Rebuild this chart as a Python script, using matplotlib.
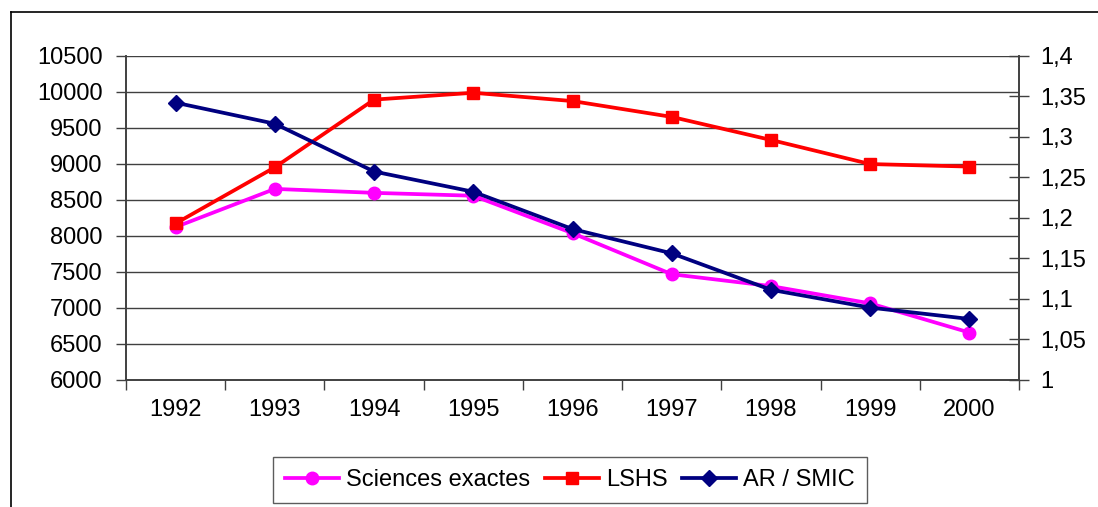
import matplotlib
matplotlib.use("Agg")
import matplotlib.pyplot as plt
from matplotlib.lines import Line2D
from matplotlib.ticker import FixedLocator, FuncFormatter

plt.rcParams['font.family'] = ['Liberation Sans', 'DejaVu Sans']

years = ["1992", "1993", "1994", "1995", "1996", "1997", "1998", "1999", "2000"]
sciences_exactes = [8120, 8650, 8595, 8555, 8035, 7465, 7300, 7060, 6655]
lshs = [8170, 8950, 9890, 9985, 9870, 9650, 9330, 8995, 8960]
ar_smic = [1.342, 1.316, 1.257, 1.232, 1.186, 1.156, 1.111, 1.089, 1.075]

left_ticks = [6000, 6500, 7000, 7500, 8000, 8500, 9000, 9500, 10000, 10500]
right_ticks = [1.0, 1.05, 1.1, 1.15, 1.2, 1.25, 1.3, 1.35, 1.4]

W, H = 1098, 507
fig = plt.figure(figsize=(W / 100, H / 100), dpi=100)
fig.patch.set_facecolor("white")

ax = fig.add_axes([126 / W, 1 - 379.7 / H, (1019 - 126) / W, (379.7 - 55.7) / H])
ax2 = ax.twinx()

x = list(range(len(years)))
ax.set_xlim(-0.5, len(years) - 0.5)
ax.set_ylim(6000, 10500)
ax2.set_ylim(1.0, 1.4)

gridc = "#404040"
for v in left_ticks[1:]:
    ax.axhline(v, color=gridc, lw=1.0, zorder=0)

l1, = ax.plot(x, sciences_exactes, color="#FF00FF", lw=2.7, marker="o", ms=9,
              label="Sciences exactes", zorder=3)
l2, = ax.plot(x, lshs, color="#FF0000", lw=2.7, marker="s", ms=8.5,
              label="LSHS", zorder=3)
l3, = ax2.plot(x, ar_smic, color="#000080", lw=2.7, marker="D", ms=8,
               label="AR / SMIC", zorder=3)

# x axis: labels at category centres, tick marks at boundaries
ax.set_xticks(x)
ax.set_xticklabels(years, fontsize=17)
ax.tick_params(axis="x", which="major", length=0, pad=14)
ax.xaxis.set_minor_locator(FixedLocator([i - 0.5 for i in range(len(years) + 1)]))
ax.tick_params(axis="x", which="minor", length=7, width=1, color=gridc, direction="out")

ax.set_yticks(left_ticks)
ax.set_yticklabels([str(v) for v in left_ticks], fontsize=17)
ax.tick_params(axis="y", length=7, width=1, color=gridc, direction="out", pad=10)

ax2.set_yticks(right_ticks)
ax2.yaxis.set_major_formatter(FuncFormatter(lambda v, p: ("%g" % v).replace(".", ",")))
ax2.tick_params(axis="y", length=14, width=1, color=gridc, direction="inout", pad=8, labelsize=17)

for a in (ax, ax2):
    a.spines["top"].set_visible(False)
    for s in ("left", "right", "bottom"):
        a.spines[s].set_color(gridc)
        a.spines[s].set_linewidth(1.2)
ax.patch.set_visible(False)

leg = fig.legend(handles=[l1, l2, l3], loc="center", bbox_to_anchor=(570 / W, 1 - 480 / H),
                 ncol=3, fontsize=17, frameon=True, fancybox=False, edgecolor="#333333",
                 handlelength=2.3, handletextpad=0.3, columnspacing=0.6, borderpad=0.5,
                 borderaxespad=0)
leg.get_frame().set_linewidth(1.0)

# outer chart border (top and left visible)
fig.add_artist(Line2D([11 / W, 11 / W], [0, 1 - 12 / H], color="black", lw=1.2,
                      transform=fig.transFigure))
fig.add_artist(Line2D([11 / W, 1], [1 - 12 / H, 1 - 12 / H], color="black", lw=1.2,
                      transform=fig.transFigure))

fig.savefig("out.png", dpi=100)
